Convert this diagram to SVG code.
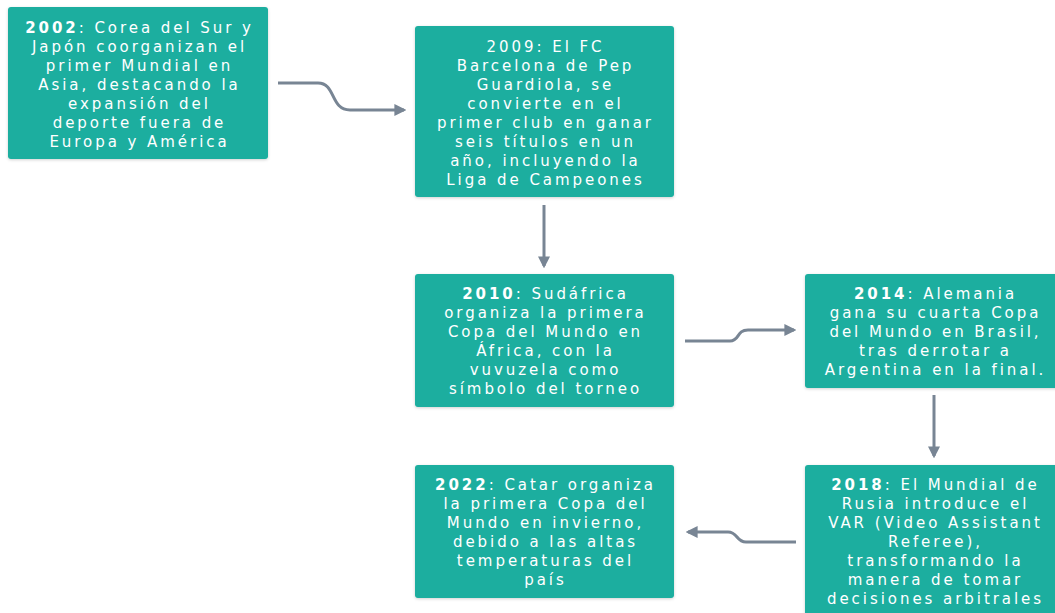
<svg xmlns="http://www.w3.org/2000/svg" width="1055" height="613" viewBox="0 0 1055 613">
<defs>
<filter id="sh" x="-10%" y="-10%" width="120%" height="120%"><feDropShadow dx="0" dy="1" stdDeviation="1.5" flood-color="#000" flood-opacity="0.18"/></filter>
<marker id="ah" viewBox="0 0 10 10" refX="8" refY="5" markerWidth="4" markerHeight="4" orient="auto" markerUnits="strokeWidth"><path d="M0,0 L10,5 L0,10 z" fill="#788594"/></marker>
</defs>
<style>
.box{fill:#1aae9f;filter:url(#sh)}
.t{font-family:"DejaVu Sans",sans-serif;font-size:15px;fill:#fff;text-anchor:middle;letter-spacing:2.95px}
.b{font-weight:bold}
.c{fill:none;stroke:#788594;stroke-width:3;marker-end:url(#ah)}
</style>
<rect width="1055" height="613" fill="#fff"/>
<g id="connectors">
<path class="c" d="M278,83 L318,83 C336,83 330,110 350,110 L404,110"/>
<path class="c" d="M544,205 L544,266"/>
<path class="c" d="M685,341 L730,341 C740,341 736,330 748,330 L794,330"/>
<path class="c" d="M934,395 L934,456"/>
<path class="c" d="M796,542 L746,542 C736,542 738,532 728,532 L688,532"/>
</g>
<g id="n2002">
<rect class="box" x="8" y="7" width="260" height="152" rx="3"/>
<text class="t"><tspan x="139.5" y="33"><tspan class="b">2002</tspan>: Corea del Sur y</tspan><tspan x="139.5" y="52">Japón coorganizan el</tspan><tspan x="139.5" y="71">primer Mundial en</tspan><tspan x="139.5" y="90">Asia, destacando la</tspan><tspan x="139.5" y="109">expansión del</tspan><tspan x="139.5" y="128">deporte fuera de</tspan><tspan x="139.5" y="147">Europa y América</tspan></text>
</g>
<g id="n2009">
<rect class="box" x="415" y="26" width="259" height="171" rx="3"/>
<text class="t"><tspan x="545.5" y="52">2009: El FC</tspan><tspan x="545.5" y="71">Barcelona de Pep</tspan><tspan x="545.5" y="90">Guardiola, se</tspan><tspan x="545.5" y="109">convierte en el</tspan><tspan x="545.5" y="128">primer club en ganar</tspan><tspan x="545.5" y="147">seis títulos en un</tspan><tspan x="545.5" y="166">año, incluyendo la</tspan><tspan x="545.5" y="185">Liga de Campeones</tspan></text>
</g>
<g id="n2010">
<rect class="box" x="415" y="274" width="259" height="133" rx="3"/>
<text class="t"><tspan x="545.5" y="299"><tspan class="b">2010</tspan>: Sudáfrica</tspan><tspan x="545.5" y="318">organiza la primera</tspan><tspan x="545.5" y="337">Copa del Mundo en</tspan><tspan x="545.5" y="356">África, con la</tspan><tspan x="545.5" y="375">vuvuzela como</tspan><tspan x="545.5" y="394">símbolo del torneo</tspan></text>
</g>
<g id="n2014">
<rect class="box" x="805" y="274" width="255" height="114" rx="3"/>
<text class="t"><tspan x="935.5" y="299"><tspan class="b">2014</tspan>: Alemania</tspan><tspan x="935.5" y="318">gana su cuarta Copa</tspan><tspan x="935.5" y="337">del Mundo en Brasil,</tspan><tspan x="935.5" y="356">tras derrotar a</tspan><tspan x="935.5" y="375">Argentina en la final.</tspan></text>
</g>
<g id="n2018">
<rect class="box" x="805" y="465" width="255" height="155" rx="3"/>
<text class="t"><tspan x="935.5" y="490"><tspan class="b">2018</tspan>: El Mundial de</tspan><tspan x="935.5" y="509">Rusia introduce el</tspan><tspan x="935.5" y="528">VAR (Video Assistant</tspan><tspan x="935.5" y="547">Referee),</tspan><tspan x="935.5" y="566">transformando la</tspan><tspan x="935.5" y="585">manera de tomar</tspan><tspan x="935.5" y="604">decisiones arbitrales</tspan></text>
</g>
<g id="n2022">
<rect class="box" x="415" y="465" width="259" height="133" rx="3"/>
<text class="t"><tspan x="545.5" y="490"><tspan class="b">2022</tspan>: Catar organiza</tspan><tspan x="545.5" y="509">la primera Copa del</tspan><tspan x="545.5" y="528">Mundo en invierno,</tspan><tspan x="545.5" y="547">debido a las altas</tspan><tspan x="545.5" y="566">temperaturas del</tspan><tspan x="545.5" y="585">país</tspan></text>
</g>
</svg>
